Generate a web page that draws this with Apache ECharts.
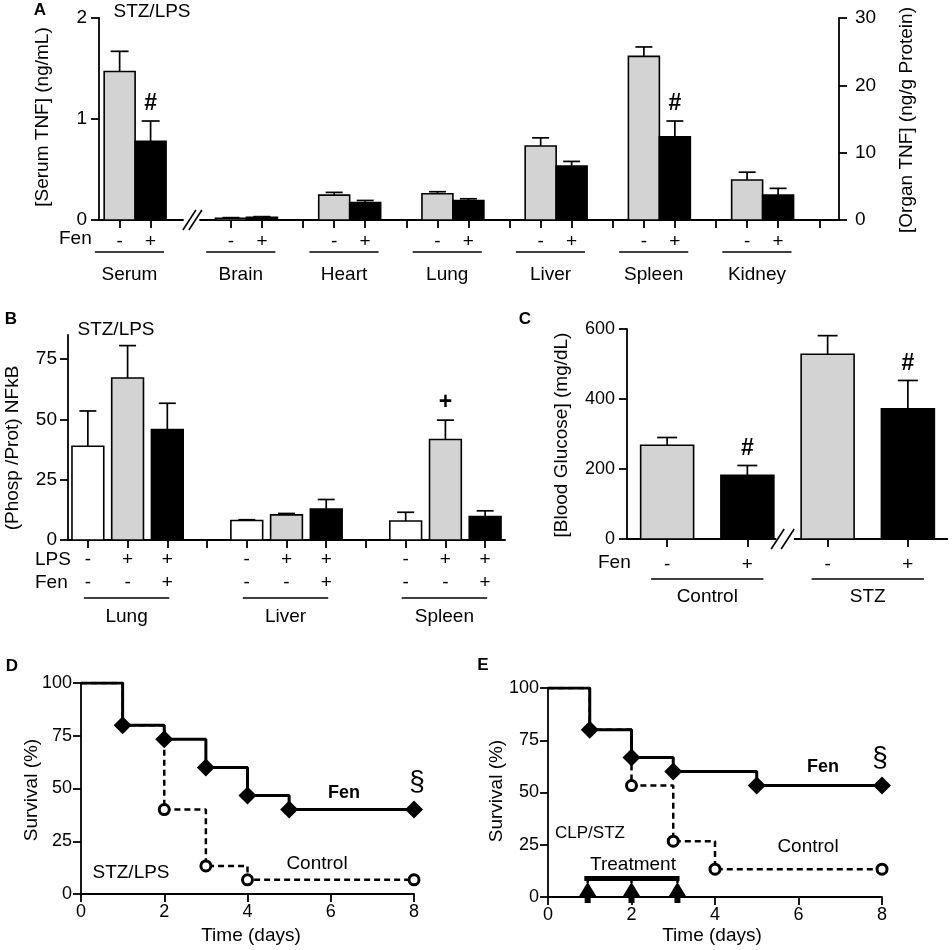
<!DOCTYPE html>
<html>
<head>
<meta charset="utf-8">
<script src="https://cdn.jsdelivr.net/npm/echarts@6/dist/echarts.min.js"></script>
<style>html,body{margin:0;padding:0;background:#fff}#main{width:952px;height:950px}</style>
</head>
<body>
<div id="main"></div>
<script>
// ---- Panel A: TNF (serum on left axis, organs on right axis)
var aGroupNames = ['Serum', 'Brain', 'Heart', 'Lung', 'Liver', 'Spleen', 'Kidney'];
var aFenLabels = ['-', '+'];
var aSerumVeh = [1.47], aSerumVehErr = [0.20];
var aSerumFen = [0.78], aSerumFenErr = [0.20];
var aSerumSig = ['#'];
var aOrganVeh = [0.25, 3.7, 3.9, 11.0, 24.3, 5.95];
var aOrganVehErr = [0.1, 0.4, 0.3, 1.2, 1.4, 1.15];
var aOrganFen = [0.4, 2.6, 2.9, 8.0, 12.35, 3.7];
var aOrganFenErr = [0.1, 0.3, 0.25, 0.7, 2.35, 1.0];
var aOrganSig = ['', '', '', '', '#', ''];
var aSerumTicks = [0, 1, 2];
var aOrganTicks = [0, 10, 20, 30];

// ---- Panel B: NFkB
var bGroupNames = ['Lung', 'Liver', 'Spleen'];
var bLpsLabels = ['-', '+', '+'];
var bFenLabels = ['-', '-', '+'];
var bCtrl = [38.9, 8.1, 7.9], bCtrlErr = [14.6, 0.3, 3.6];
var bLps = [67.2, 10.4, 41.7], bLpsErr = [13.4, 0.6, 8.0];
var bLpsFen = [45.8, 12.8, 9.7], bLpsFenErr = [10.9, 4.0, 2.4];
var bLpsSig = ['', '', '+'];
var bTicks = [0, 25, 50, 75];

// ---- Panel C: blood glucose
var cGroupNames = ['Control', 'STZ'];
var cFenLabels = ['-', '+'];
var cVeh = [268, 528], cVehErr = [22, 53];
var cFen = [182, 372], cFenErr = [28, 81];
var cFenSig = ['#', '#'];
var cTicks = [0, 200, 400, 600];

// ---- Panels D, E: survival
var survTicks = [0, 25, 50, 75, 100];
var dayTicks = [0, 2, 4, 6, 8];
var dFenDays = [0, 1, 2, 3, 4, 5, 8];
var dFenSurv = [100, 80, 73.3, 60, 46.7, 40, 40];
var dCtrlDays = [0, 1, 2, 3, 4, 8];
var dCtrlSurv = [100, 80, 40, 13.3, 6.7, 6.7];
var eFenDays = [0, 1, 2, 3, 5, 8];
var eFenSurv = [100, 80, 66.7, 60, 53.3, 53.3];
var eCtrlDays = [0, 1, 2, 3, 4, 8];
var eCtrlSurv = [100, 80, 53.3, 26.7, 13.3, 13.3];
var eTreatDays = [0.95, 2, 3.1];

var FONT = '"Liberation Sans", Arial, sans-serif';
var AXLINE = {color: '#000', width: 1.8};
var GRAY = '#d3d3d3';

function labelMap(xs, texts) {
    var m = {};
    xs.forEach(function (x, i) { m[x.toFixed(3)] = texts[i]; });
    return function (v) { return m[(+v).toFixed(3)] || ''; };
}

function xAx(gi, min, max, ticks, labXs, labTexts, margin, showLine) {
    return {
        type: 'value', gridIndex: gi, min: min, max: max,
        axisLine: {show: showLine !== false, onZero: false, lineStyle: AXLINE},
        axisTick: {show: true, length: 8, lineStyle: AXLINE, customValues: ticks},
        axisLabel: {customValues: labXs, formatter: labelMap(labXs, labTexts), color: '#000',
            fontSize: 19, fontFamily: FONT, margin: margin, lineHeight: 23},
        splitLine: {show: false}
    };
}
function yAx(gi, min, max, ticks, size, margin, pos) {
    return {
        type: 'value', gridIndex: gi, min: min, max: max, position: pos || 'left',
        interval: ticks[1] - ticks[0],
        axisLine: {show: true, onZero: false, lineStyle: AXLINE},
        axisTick: {show: true, length: 8, lineStyle: AXLINE, customValues: ticks},
        axisLabel: {customValues: ticks, color: '#000', fontSize: size, fontFamily: FONT, margin: margin},
        splitLine: {show: false}
    };
}
function survX(gi) {
    return {
        type: 'value', gridIndex: gi, min: 0, max: 8, interval: 2,
        axisLine: {show: true, onZero: false, lineStyle: AXLINE},
        axisTick: {length: 8, lineStyle: AXLINE, customValues: dayTicks},
        axisLabel: {customValues: dayTicks, color: '#000', fontSize: 18, fontFamily: FONT, margin: 9},
        splitLine: {show: false}
    };
}

// bars with one-sided error bars, drawn through the axes
function barSeries(gi, pts, fill, w, capW) {
    return {
        type: 'custom', xAxisIndex: gi, yAxisIndex: gi, clip: false, silent: true, z: 5,
        data: pts.map(function (p) { return [p.x, p.m, p.e]; }),
        renderItem: function (params, api) {
            var p = pts[params.dataIndex];
            var tl = api.coord([p.x - w / 2, p.m]);
            var br = api.coord([p.x + w / 2, 0]);
            var et = api.coord([p.x, p.m + p.e]);
            var ch = [
                {type: 'line', shape: {x1: et[0], y1: tl[1], x2: et[0], y2: et[1]}, style: {stroke: '#000', lineWidth: 1.7}},
                {type: 'line', shape: {x1: et[0] - capW / 2, y1: et[1], x2: et[0] + capW / 2, y2: et[1]}, style: {stroke: '#000', lineWidth: 1.7}},
                {type: 'rect', shape: {x: tl[0], y: tl[1], width: br[0] - tl[0], height: br[1] - tl[1]},
                    style: {fill: fill, stroke: '#000', lineWidth: 1.6}}
            ];
            if (p.sig) {
                ch.push({type: 'text', x: et[0], y: et[1] - 17,
                    style: {text: p.sig, font: 'bold 23px ' + FONT, fill: '#000', textAlign: 'center', textVerticalAlign: 'middle'}});
            }
            return {type: 'group', children: ch};
        }
    };
}

// group underline + group name below an axis
function groupSeries(gi, groups, lineDy, textDy) {
    return {
        type: 'custom', xAxisIndex: gi, yAxisIndex: gi, clip: false, silent: true,
        data: groups.map(function (g) { return [g.from, 0]; }),
        renderItem: function (params, api) {
            var g = groups[params.dataIndex];
            var a = api.coord([g.from, 0]), b = api.coord([g.to, 0]);
            return {type: 'group', children: [
                {type: 'line', shape: {x1: a[0], y1: a[1] + lineDy, x2: b[0], y2: a[1] + lineDy}, style: {stroke: '#000', lineWidth: 1.6}},
                {type: 'text', x: (a[0] + b[0]) / 2, y: a[1] + textDy,
                    style: {text: g.name, font: '19px ' + FONT, fill: '#000', textAlign: 'center', textVerticalAlign: 'middle'}}
            ]};
        }
    };
}

// axis-break "//"
function breakSeries(gi, xVal, gap) {
    return {
        type: 'custom', xAxisIndex: gi, yAxisIndex: gi, clip: false, silent: true,
        data: [[xVal, 0]],
        renderItem: function (params, api) {
            var c = api.coord([xVal, 0]);
            var ch = [];
            [-gap / 2, gap / 2].forEach(function (o) {
                ch.push({type: 'line', shape: {x1: c[0] + o - 6.5, y1: c[1] + 10, x2: c[0] + o + 6.5, y2: c[1] - 10},
                    style: {stroke: '#000', lineWidth: 1.6}});
            });
            return {type: 'group', children: ch};
        }
    };
}

// ---- build bar positions
var aSerumVehPts = [], aSerumFenPts = [];
aSerumVeh.forEach(function (v, i) {
    aSerumVehPts.push({x: 0.2, m: v, e: aSerumVehErr[i]});
    aSerumFenPts.push({x: 0.5, m: aSerumFen[i], e: aSerumFenErr[i], sig: aSerumSig[i]});
});
var aVehPts = [], aFenPts = [], aLabXs = [], aLabTx = [], aTickXs = [], aGroups = [];
aGroups.push({from: 0.2 - 0.24, to: 0.5 + 0.13, name: aGroupNames[0]});
aOrganVeh.forEach(function (v, g) {
    aVehPts.push({x: g + 0.3, m: v, e: aOrganVehErr[g]});
    aFenPts.push({x: g + 0.6, m: aOrganFen[g], e: aOrganFenErr[g], sig: aOrganSig[g]});
    aLabXs.push(g + 0.3, g + 0.6);
    aLabTx.push(aFenLabels[0], aFenLabels[1]);
    aTickXs.push(g + 0.3, g + 0.6, g + 1);
});
var aOrganGroups = aOrganVeh.map(function (v, g) {
    return {from: g + 0.3 - 0.24, to: g + 0.6 + 0.13, name: aGroupNames[g + 1]};
});

var bCtrlPts = [], bLpsPts = [], bLpsFenPts = [], bLabXs = [], bLabTx = [], bTickXs = [], bGroups = [];
bCtrl.forEach(function (v, g) {
    var b = 4 * g;
    bCtrlPts.push({x: b + 1, m: v, e: bCtrlErr[g]});
    bLpsPts.push({x: b + 2, m: bLps[g], e: bLpsErr[g], sig: bLpsSig[g]});
    bLpsFenPts.push({x: b + 3, m: bLpsFen[g], e: bLpsFenErr[g]});
    for (var k = 0; k < 3; k++) {
        bLabXs.push(b + 1 + k);
        bLabTx.push(bLpsLabels[k] + '\n' + bFenLabels[k]);
        bTickXs.push(b + 1 + k);
    }
    if (g < 2) bTickXs.push(b + 4);
    bGroups.push({from: b + 1 - 0.1, to: b + 3 + 0.05, name: bGroupNames[g]});
});

var cVehPts = [], cFenPts = [], cLabXs = [], cLabTx = [], cGroups = [];
cVeh.forEach(function (v, g) {
    var b = 2 * g;
    cVehPts.push({x: b + 1, m: v, e: cVehErr[g]});
    cFenPts.push({x: b + 2, m: cFen[g], e: cFenErr[g], sig: cFenSig[g]});
    cLabXs.push(b + 1, b + 2);
    cLabTx.push(cFenLabels[0], cFenLabels[1]);
    cGroups.push({from: b + 1 - 0.2, to: b + 2 + 0.2, name: cGroupNames[g]});
});

// survival step curves
function survData(days, surv, other, otherDays) {
    return days.map(function (d, i) {
        var j = otherDays ? otherDays.indexOf(d) : -1;
        var hide = d === 0 || (j >= 0 && other[j] === surv[i]);
        return hide ? {value: [d, surv[i]], symbol: 'none'} : {value: [d, surv[i]]};
    });
}
function fenLine(gi, days, surv) {
    return {
        type: 'line', xAxisIndex: gi, yAxisIndex: gi, step: 'end', z: 4, silent: true,
        data: survData(days, surv),
        symbol: 'diamond', symbolSize: 18,
        itemStyle: {color: '#000'}, lineStyle: {color: '#000', width: 3}
    };
}
function ctrlLine(gi, days, surv, fDays, fSurv) {
    return {
        type: 'line', xAxisIndex: gi, yAxisIndex: gi, step: 'end', z: 3, silent: true,
        data: survData(days, surv, fSurv, fDays),
        symbol: 'circle', symbolSize: 10,
        itemStyle: {color: '#fff', borderColor: '#000', borderWidth: 3},
        lineStyle: {color: '#000', width: 2.5, type: [6, 4]}
    };
}

var treatLevel = 8.8;
var treatBar = {
    type: 'custom', xAxisIndex: 5, yAxisIndex: 5, clip: false, silent: true, z: 6,
    data: eTreatDays.map(function (d) { return [d, treatLevel]; }),
    renderItem: function (params, api) {
        var d = eTreatDays[params.dataIndex];
        var top = api.coord([d, treatLevel]), base = api.coord([d, 0]);
        var ch = [
            {type: 'line', shape: {x1: top[0], y1: top[1], x2: top[0], y2: base[1] - 14}, style: {stroke: '#000', lineWidth: 2.5}},
            {type: 'polygon', shape: {points: [[base[0], base[1] - 15], [base[0] - 8.5, base[1] - 1], [base[0] + 8.5, base[1] - 1]]}, style: {fill: '#000'}},
            {type: 'rect', shape: {x: base[0] - 3, y: base[1] - 3, width: 6, height: 9}, style: {fill: '#000'}}
        ];
        if (params.dataIndex === 0) {
            var l = api.coord([eTreatDays[0] - 0.08, treatLevel]);
            var r = api.coord([eTreatDays[eTreatDays.length - 1] + 0.05, treatLevel]);
            ch.push({type: 'line', shape: {x1: l[0], y1: l[1], x2: r[0], y2: r[1]}, style: {stroke: '#000', lineWidth: 5}});
        }
        return {type: 'group', children: ch};
    }
};

// panel C x-axis drawn in two pieces around the break
var cAxisPieces = [[0.5, 2.36], [2.58, 4.5]];
var cAxisLine = {
    type: 'custom', xAxisIndex: 3, yAxisIndex: 3, clip: false, silent: true,
    data: cAxisPieces,
    renderItem: function (params, api) {
        var p = cAxisPieces[params.dataIndex];
        var a = api.coord([p[0], 0]), b = api.coord([p[1], 0]);
        return {type: 'line', shape: {x1: a[0], y1: a[1], x2: b[0], y2: b[1]}, style: {stroke: '#000', lineWidth: 1.8}};
    }
};

function txt(x, y, s, size, o) {
    o = o || {};
    return {type: 'text', x: x, y: y, rotation: o.rot || 0, z: 100, silent: true,
        style: {text: s, font: (o.bold ? 'bold ' : '') + size + 'px ' + FONT, fill: '#000',
            textAlign: o.align || 'center', textVerticalAlign: 'middle'}};
}
var R = Math.PI / 2;

var myChart = echarts.init(document.getElementById('main'), null, {renderer: 'canvas'});
var option = {
    animation: false,
    backgroundColor: '#fff',
    grid: [
        {left: 99, top: 18, width: 84, height: 202, outerBoundsMode: 'none'},
        {left: 200, top: 18, width: 639, height: 202, outerBoundsMode: 'none'},
        {left: 68, top: 335, width: 437, height: 205, outerBoundsMode: 'none'},
        {left: 627, top: 329, width: 321, height: 210, outerBoundsMode: 'none'},
        {left: 81, top: 683, width: 333, height: 211, outerBoundsMode: 'none'},
        {left: 548, top: 688, width: 334, height: 209, outerBoundsMode: 'none'}
    ],
    xAxis: [
        xAx(0, 0, 0.814, [0.2, 0.5], [0.2, 0.5], aFenLabels, 10),
        xAx(1, 0, 6.19, aTickXs, aLabXs, aLabTx, 10),
        xAx(2, 0.5, 11.5, bTickXs, bLabXs, bLabTx, 8),
        xAx(3, 0.5, 4.5, cLabXs, cLabXs, cLabTx, 14, false),
        survX(4),
        survX(5)
    ],
    yAxis: [
        yAx(0, 0, 2, aSerumTicks, 19, 12),
        yAx(1, 0, 30, aOrganTicks, 19, 16, 'right'),
        yAx(2, 0, 85, bTicks, 19, 11),
        yAx(3, 0, 600, cTicks, 18, 12),
        yAx(4, 0, 100, survTicks, 18, 9),
        yAx(5, 0, 100, survTicks, 18, 9)
    ],
    series: [
        barSeries(0, aSerumVehPts, GRAY, 0.3, 18),
        barSeries(0, aSerumFenPts, '#000', 0.3, 18),
        groupSeries(0, aGroups, 32, 55),
        breakSeries(0, 0.905, 6),
        barSeries(1, aVehPts, GRAY, 0.3, 17),
        barSeries(1, aFenPts, '#000', 0.3, 17),
        groupSeries(1, aOrganGroups, 32, 55),
        barSeries(2, bCtrlPts, '#fff', 0.8, 17),
        barSeries(2, bLpsPts, GRAY, 0.8, 17),
        barSeries(2, bLpsFenPts, '#000', 0.8, 17),
        groupSeries(2, bGroups, 58, 77),
        cAxisLine,
        breakSeries(3, 2.44, 10),
        barSeries(3, cVehPts, GRAY, 0.66, 20),
        barSeries(3, cFenPts, '#000', 0.66, 20),
        groupSeries(3, cGroups, 40, 58),
        ctrlLine(4, dCtrlDays, dCtrlSurv, dFenDays, dFenSurv),
        fenLine(4, dFenDays, dFenSurv),
        ctrlLine(5, eCtrlDays, eCtrlSurv, eFenDays, eFenSurv),
        fenLine(5, eFenDays, eFenSurv),
        treatBar
    ],
    graphic: [
        txt(40, 10, 'A', 17, {bold: true}),
        txt(152, 12, 'STZ/LPS', 19),
        txt(43, 117, '[Serum TNF] (ng/mL)', 19, {rot: R}),
        txt(907, 120, '[Organ TNF] (ng/g Protein)', 19, {rot: R}),
        txt(59, 239, 'Fen', 19, {align: 'left'}),

        txt(11, 319, 'B', 17, {bold: true}),
        txt(116, 330, 'STZ/LPS', 19),
        txt(13, 448, '(Phosp /Prot) NFkB', 19, {rot: R}),
        txt(35, 560, 'LPS', 19, {align: 'left'}),
        txt(35, 583, 'Fen', 19, {align: 'left'}),

        txt(525, 319, 'C', 17, {bold: true}),
        txt(562, 435, '[Blood Glucose] (mg/dL)', 19, {rot: R}),
        txt(598, 563, 'Fen', 19, {align: 'left'}),

        txt(12, 666, 'D', 17, {bold: true}),
        txt(32, 790, 'Survival (%)', 19, {rot: R}),
        txt(251, 936, 'Time (days)', 19),
        txt(344, 793, 'Fen', 18, {bold: true}),
        txt(417, 782, '§', 28),
        txt(317, 864, 'Control', 19),
        txt(131, 873, 'STZ/LPS', 19),

        txt(483, 665, 'E', 17, {bold: true}),
        txt(497, 791, 'Survival (%)', 19, {rot: R}),
        txt(712, 936, 'Time (days)', 19),
        txt(823, 767, 'Fen', 18, {bold: true}),
        txt(880, 758, '§', 28),
        txt(808, 847, 'Control', 19),
        txt(590, 833, 'CLP/STZ', 17),
        txt(633, 865, 'Treatment', 19)
    ]
};
myChart.setOption(option);
</script>
</body>
</html>
